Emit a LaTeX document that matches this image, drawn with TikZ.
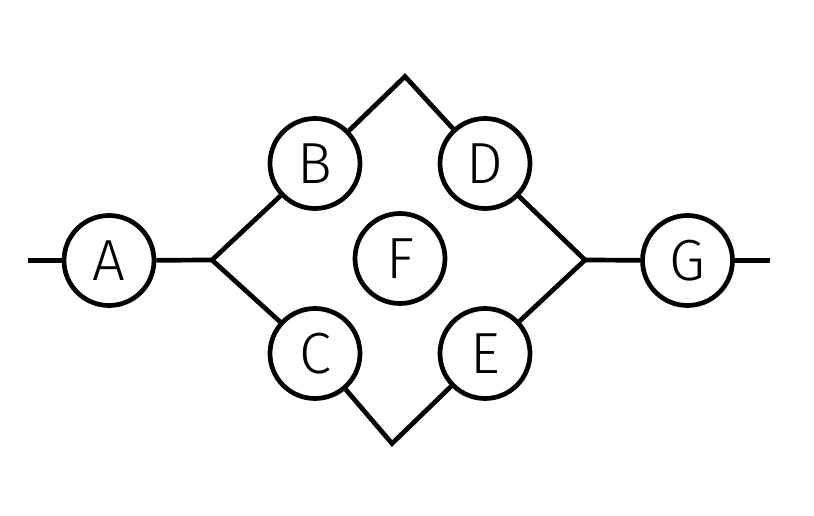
\documentclass[tikz,border=0pt]{standalone}
\usepackage{fontspec}
\setmainfont{Fira Sans Light}
\begin{document}
\begin{tikzpicture}[x=1pt,y=-1pt,
  vertex/.style={circle,draw,line width=4.7pt,minimum size=90pt,inner sep=0pt,fill=white,
    font=\fontsize{58}{60}\selectfont},
  edge/.style={line width=4.7pt,line join=miter}]
\path[use as bounding box] (0,0) rectangle (814,516);
\node[vertex] (A) at (109,260.5) {A};
\node[vertex] (B) at (315,163.5) {B};
\node[vertex] (C) at (315,353.5) {C};
\node[vertex] (D) at (485,163.5) {D};
\node[vertex] (E) at (485,353.5) {E};
\node[vertex] (F) at (400,258.5) {F};
\node[vertex] (G) at (687.5,260.5) {G};
\coordinate (L) at (28,260.5);
\coordinate (R) at (770,260.5);
\coordinate (J1) at (212,260);
\coordinate (J2) at (585,260);
\coordinate (T) at (405,76.5);
\coordinate (U) at (392,443.5);
\draw[edge] (L) -- (A);
\draw[edge] (A) -- (J1);
\draw[edge] (J1) -- (B);
\draw[edge] (J1) -- (C);
\draw[edge] (B) -- (T) -- (D);
\draw[edge] (C) -- (U) -- (E);
\draw[edge] (D) -- (J2);
\draw[edge] (E) -- (J2);
\draw[edge] (J2) -- (G);
\draw[edge] (G) -- (R);
\end{tikzpicture}
\end{document}
